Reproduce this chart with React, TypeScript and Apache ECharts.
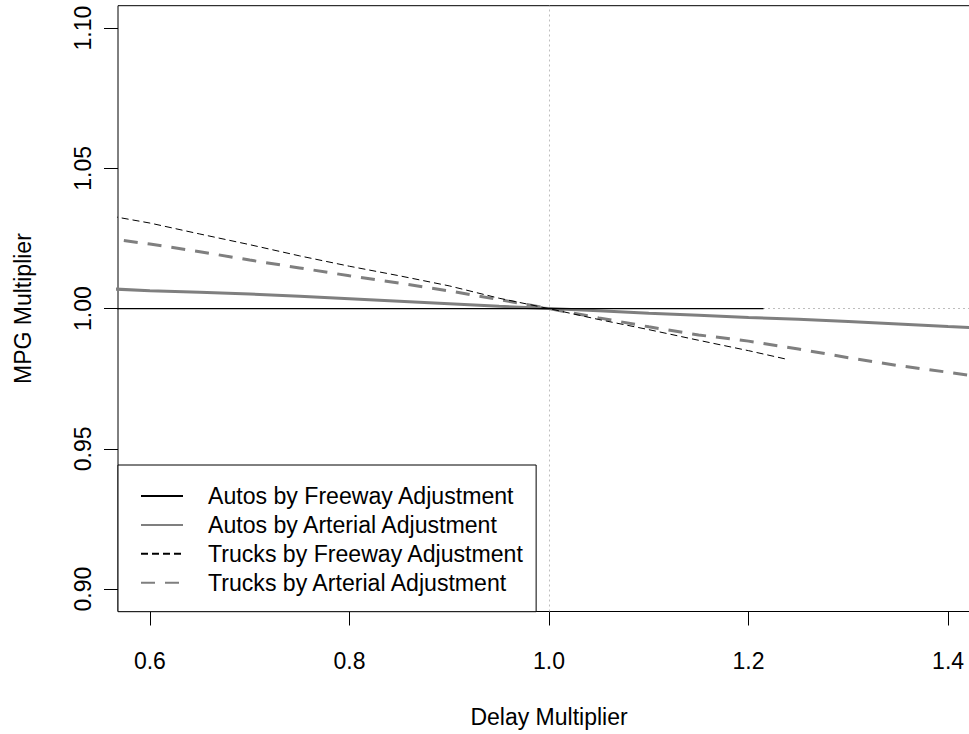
import React, { useEffect, useRef } from "react";
import * as echarts from "echarts";

// Delay multiplier sample points
const arterialX = [0.55, 0.6, 0.65, 0.7, 0.75, 0.8, 0.85, 0.9, 0.95, 1.0, 1.05, 1.1, 1.15, 1.2, 1.25, 1.3, 1.35, 1.4, 1.45];
const autosArterial = [1.0072, 1.0064, 1.0058, 1.0052, 1.0044, 1.0035, 1.0026, 1.0017, 1.0008, 1.0, 0.9992, 0.9983, 0.9976, 0.9968, 0.9962, 0.9954, 0.9945, 0.9936, 0.9928];
const trucksArterial = [1.0254, 1.023, 1.0203, 1.0173, 1.0145, 1.0117, 1.0091, 1.0063, 1.0032, 1.0, 0.9967, 0.9935, 0.9906, 0.9884, 0.9856, 0.9825, 0.9797, 0.9773, 0.9748];

const trucksFreewayX = [0.55, 0.6, 0.65, 0.7, 0.75, 0.8, 0.85, 0.9, 0.95, 1.0, 1.05, 1.1, 1.15, 1.2, 1.24];
const trucksFreeway = [1.0337, 1.0305, 1.0266, 1.0228, 1.0188, 1.0151, 1.0117, 1.0081, 1.0037, 1.0, 0.9961, 0.9925, 0.9887, 0.985, 0.9818];

const autosFreewayX = [0.55, 0.6, 0.7, 0.8, 0.9, 1.0, 1.1, 1.2, 1.215];
const autosFreeway = [1.0, 1.0, 1.0, 1.0, 1.0, 1.0, 1.0, 1.0, 1.0];

// reference lines (abline v = 1, h = 1)
const refX = 1.0;
const refY = 1.0;

const xTicks = [0.6, 0.8, 1.0, 1.2, 1.4];
const yTicks = [0.9, 0.95, 1.0, 1.05, 1.1];

const seriesNames = [
  "Autos by Freeway Adjustment",
  "Autos by Arterial Adjustment",
  "Trucks by Freeway Adjustment",
  "Trucks by Arterial Adjustment",
];

const FONT = "'Liberation Sans', Arial, Helvetica, sans-serif";
const GRAY = "#7f7f7f";

const zip = (xs: number[], ys: number[]) => xs.map((x, i) => [x, ys[i]]);

export default function App() {
  const ref = useRef<HTMLDivElement>(null);
  useEffect(() => {
    const chart = echarts.init(ref.current!, null, { renderer: "svg" });
    const lineBase = {
      type: "line",
      symbol: "none",
      showSymbol: false,
      emphasis: { disabled: true },
      silent: true,
    };
    const option: any = {
      animation: false,
      backgroundColor: "#fff",
      textStyle: { fontFamily: FONT },
      grid: {
        left: 118,
        top: 5.7,
        width: 862,
        height: 605.8,
        show: true,
        borderColor: "#000",
        borderWidth: 1,
        backgroundColor: "transparent",
        containLabel: false,
      },
      xAxis: {
        type: "value",
        min: 0.568,
        max: 1.432,
        name: "Delay Multiplier",
        nameLocation: "middle",
        nameGap: 94,
        nameTextStyle: { fontSize: 23, color: "#000", fontFamily: FONT },
        axisLine: { show: false },
        axisTick: { show: true, length: 14, inside: false, lineStyle: { color: "#000", width: 1 }, customValues: xTicks },
        axisLabel: {
          customValues: xTicks,
          fontSize: 23,
          color: "#000",
          fontFamily: FONT,
          margin: 38,
          formatter: (v: number) => v.toFixed(1),
        },
        splitLine: { show: false },
      },
      yAxis: {
        type: "value",
        min: 0.892,
        max: 1.108,
        name: "MPG Multiplier",
        nameLocation: "middle",
        nameGap: 84,
        nameTextStyle: { fontSize: 23, color: "#000", fontFamily: FONT },
        axisLine: { show: false },
        axisTick: { show: true, length: 14, inside: false, lineStyle: { color: "#000", width: 1 }, customValues: yTicks },
        axisLabel: {
          customValues: yTicks,
          rotate: 90,
          fontSize: 23,
          color: "#000",
          fontFamily: FONT,
          margin: 24,
          formatter: (v: number) => v.toFixed(2),
        },
        splitLine: { show: false },
      },
      legend: {
        orient: "vertical",
        left: 118,
        top: 465,
        data: seriesNames,
        selectedMode: false,
        backgroundColor: "#fff",
        borderColor: "#000",
        borderWidth: 1,
        borderRadius: 0,
        padding: [19.5, 12, 17.5, 22],
        itemWidth: 42,
        itemHeight: 14,
        itemGap: 5.9,
        itemStyle: { opacity: 0 },
        textStyle: {
          fontSize: 23.1,
          lineHeight: 23,
          color: "#000",
          fontFamily: FONT,
          padding: [0, 0, 0, 20],
        },
      },
      series: [
        {
          ...lineBase,
          name: "_reference",
          data: [],
          z: 1,
          markLine: {
            silent: true,
            z: 1,
            symbol: ["none", "none"],
            label: { show: false },
            lineStyle: { color: "#bebebe", width: 1, type: [2, 3] },
            emphasis: { disabled: true },
            data: [{ xAxis: refX }, { yAxis: refY }],
          },
        },
        {
          ...lineBase,
          name: seriesNames[0],
          data: zip(autosFreewayX, autosFreeway),
          lineStyle: { color: "#000", width: 1.2, type: "solid" },
          itemStyle: { color: "#000" },
          z: 3,
        },
        {
          ...lineBase,
          name: seriesNames[1],
          data: zip(arterialX, autosArterial),
          lineStyle: { color: GRAY, width: 3, type: "solid" },
          itemStyle: { color: GRAY },
          z: 2,
        },
        {
          ...lineBase,
          name: seriesNames[2],
          data: zip(trucksFreewayX, trucksFreeway),
          lineStyle: { color: "#000", width: 1, type: [7, 4] },
          itemStyle: { color: "#000" },
          z: 4,
        },
        {
          ...lineBase,
          name: seriesNames[3],
          data: zip(arterialX, trucksArterial),
          lineStyle: { color: GRAY, width: 3, type: [14, 10] },
          itemStyle: { color: GRAY },
          z: 2,
        },
      ],
    };
    chart.setOption(option);
    return () => chart.dispose();
  }, []);
  return (
    <div
      style={{
        position: "fixed",
        left: 0,
        top: 0,
        width: 969,
        height: 734,
        overflow: "hidden",
        background: "#fff",
      }}
    >
      <div ref={ref} style={{ width: 1000, height: 734 }} />
    </div>
  );
}
